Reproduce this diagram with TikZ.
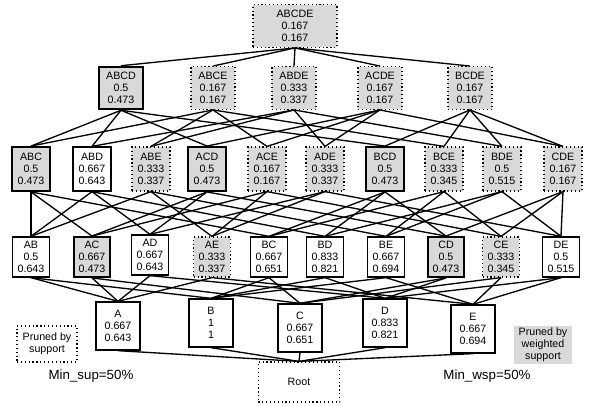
\documentclass[tikz,border=0pt]{standalone}
\usepackage{fontspec}
\setmainfont{Liberation Sans}
\usetikzlibrary{positioning}

\begin{document}
\begin{tikzpicture}[x=0.75pt,y=-0.75pt,line width=1pt,
    every node/.style={align=center,font=\fontsize{8}{9}\selectfont,inner sep=1pt}]
\tikzstyle{kept}=[draw, line width=1pt, fill=white]
\tikzstyle{lowwsp}=[draw, line width=1.4pt, fill=black!15]
\tikzstyle{lowsup}=[draw, dotted, line width=0.9pt, fill=black!15]
\tikzstyle{top}=[minimum width=63pt, minimum height=32pt]
\tikzstyle{four}=[minimum width=33pt, minimum height=32pt]
\tikzstyle{three}=[minimum width=28.5pt, minimum height=33pt]
\tikzstyle{two}=[minimum width=27.5pt, minimum height=30pt]
\tikzstyle{one}=[minimum width=33pt, minimum height=36pt]

\useasboundingbox (0,0) rectangle (589,406);

% level 5
\node[lowsup,top]  (ABCDE) at (295,26)  {ABCDE\\0.167\\0.167};

% level 4
\node[lowwsp,four] (ABCD) at (121,88) {ABCD\\0.5\\0.473};
\node[lowsup,four] (ABCE) at (213,88) {ABCE\\0.167\\0.167};
\node[lowsup,four] (ABDE) at (294,88) {ABDE\\0.333\\0.337};
\node[lowsup,four] (ACDE) at (380,88) {ACDE\\0.167\\0.167};
\node[lowsup,four] (BCDE) at (470,88) {BCDE\\0.167\\0.167};

% level 3
\node[lowwsp,three] (ABC) at (31,169)  {ABC\\0.5\\0.473};
\node[kept,three]   (ABD) at (92,169)  {ABD\\0.667\\0.643};
\node[lowsup,three] (ABE) at (151,169) {ABE\\0.333\\0.337};
\node[lowwsp,three] (ACD) at (207,169) {ACD\\0.5\\0.473};
\node[lowsup,three] (ACE) at (267,169) {ACE\\0.167\\0.167};
\node[lowsup,three] (ADE) at (325,169) {ADE\\0.333\\0.337};
\node[lowwsp,three] (BCD) at (385,169) {BCD\\0.5\\0.473};
\node[lowsup,three] (BCE) at (444,169) {BCE\\0.333\\0.345};
\node[lowsup,three] (BDE) at (502,169) {BDE\\0.5\\0.515};
\node[lowsup,three] (CDE) at (563,169) {CDE\\0.167\\0.167};

% level 2
\node[kept,two]   (AB) at (31,257)  {AB\\0.5\\0.643};
\node[lowwsp,two] (AC) at (92,257)  {AC\\0.667\\0.473};
\node[kept,two]   (AD) at (150,255) {AD\\0.667\\0.643};
\node[lowsup,two] (AE) at (212,257) {AE\\0.333\\0.337};
\node[kept,two]   (BC) at (269,257) {BC\\0.667\\0.651};
\node[kept,two]   (BD) at (325,257) {BD\\0.833\\0.821};
\node[kept,two]   (BE) at (386,257) {BE\\0.667\\0.694};
\node[lowwsp,two] (CD) at (446,257) {CD\\0.5\\0.473};
\node[lowsup,two] (CE) at (501,257) {CE\\0.333\\0.345};
\node[kept,two]   (DE) at (561,257) {DE\\0.5\\0.515};

% level 1
\node[kept,one] (A) at (118,326) {A\\0.667\\0.643};
\node[kept,one] (B) at (211,323) {B\\1\\1};
\node[kept,one] (C) at (300,328) {C\\0.667\\0.651};
\node[kept,one] (D) at (385,323) {D\\0.833\\0.821};
\node[kept,one] (E) at (473,329) {E\\0.667\\0.694};

\node[draw,dotted,line width=0.9pt,minimum width=61pt,minimum height=30pt]
    (root) at (299,382) {Root};

% legend
\node[draw,dotted,line width=0.9pt,minimum width=45pt,minimum height=27pt]
    (supbox) at (47,344) {Pruned by\\support};
\node[font=\fontsize{10}{12}\selectfont] (minsup) at (91,376) {Min\_sup=50\%};
\node[fill=black!15,minimum width=44pt,minimum height=28pt]
    (wspbox) at (543,345) {Pruned by\\weighted\\support};
\node[font=\fontsize{10}{12}\selectfont] (minwsp) at (487,376) {Min\_wsp=50\%};

% edges
\foreach \s in {ABCD,ABCE,ABDE,ACDE,BCDE}
    \draw (\s.north) -- (ABCDE.south);

\foreach \s/\t in {ABC/ABCD,ABC/ABCE,ABD/ABCD,ABD/ABDE,ABE/ABCE,ABE/ABDE,
                   ACD/ABCD,ACD/ACDE,ACE/ABCE,ACE/ACDE,ADE/ABDE,ADE/ACDE,
                   BCD/ABCD,BCD/BCDE,BCE/ABCE,BCE/BCDE,BDE/ABDE,BDE/BCDE,
                   CDE/ACDE,CDE/BCDE}
    \draw (\s.north) -- (\t.south);

\foreach \s/\t in {AB/ABC,AB/ABD,AB/ABE,AC/ABC,AC/ACD,AC/ACE,AD/ABD,AD/ACD,AD/ADE,
                   AE/ABE,AE/ACE,AE/ADE,BC/ABC,BC/BCD,BC/BCE,BD/ABD,BD/BCD,BD/BDE,
                   BE/ABE,BE/BCE,BE/BDE,CD/ACD,CD/BCD,CD/CDE,CE/ACE,CE/BCE,CE/CDE,
                   DE/ADE,DE/BDE,DE/CDE}
    \draw (\s.north) -- (\t.south);

\foreach \s/\t in {A/AB,A/AC,A/AD,A/AE,B/AB,B/BC,B/BD,B/BE,C/AC,C/BC,C/CD,C/CE,
                   D/AD,D/BD,D/CD,D/DE,E/AE,E/BE,E/CE,E/DE}
    \draw (\s.north) -- (\t.south);

\foreach \s in {A,B,C,D,E}
    \draw (\s.south) -- (root.north);
\end{tikzpicture}
\end{document}
